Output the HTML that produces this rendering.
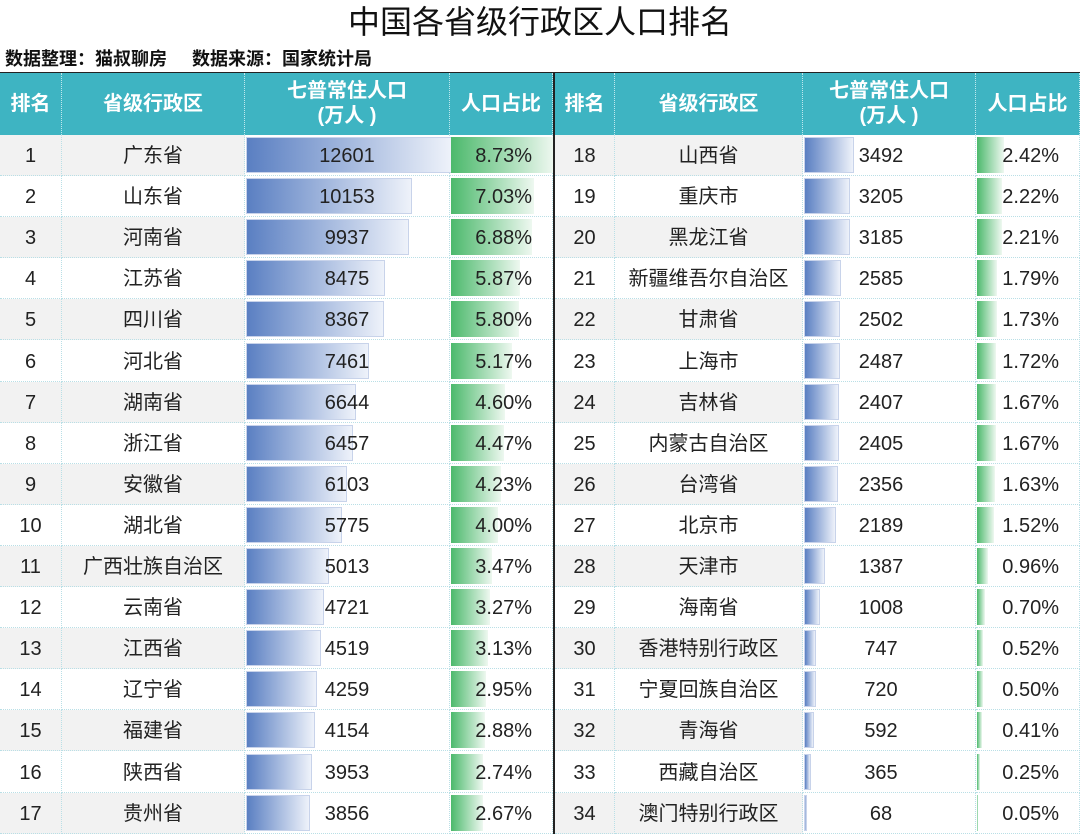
<!DOCTYPE html>
<html><head><meta charset="utf-8"><style>
body{margin:0;width:1080px;height:834px;background:#fff;font-family:"Liberation Sans","Noto Sans CJK SC",sans-serif;overflow:hidden;position:relative}
.t{position:absolute;left:0;top:0;width:1080px;height:44px;text-align:center;font-size:32px;line-height:44px;color:#111}
.s{position:absolute;left:5px;top:46px;font-size:18px;font-weight:bold;line-height:26px;color:#111;white-space:pre}
.hd{position:absolute;top:73px;height:62px;background:#3eb4c2;color:#fff;font-weight:bold;font-size:20px;display:flex;align-items:center;justify-content:center;text-align:center;line-height:25px;box-sizing:border-box;border-right:1px dotted #bfe8ee}
.c{position:absolute;height:41px;box-sizing:border-box;border-bottom:1px dotted #b9dfe6;border-right:1px dotted #b9dfe6;font-size:20px;line-height:42px;color:#222;text-align:center}
.g{background:#f2f2f2}
.b{position:absolute;top:2px;bottom:2px;left:1px;background:linear-gradient(90deg,#5a7fc2,#eef2fa);border:1px solid #c8d3ea}
.p{position:absolute;top:2px;bottom:2px;left:1px;background:linear-gradient(90deg,#4cb96c,#eef8f0)}
.v{position:relative}
</style></head><body>
<div class="t">中国各省级行政区人口排名</div>
<div class="s">数据整理：猫叔聊房     数据来源：国家统计局</div>
<div style="position:absolute;left:0;top:72px;width:1080px;height:1px;background:#222"></div>
<div style="position:absolute;left:553px;top:72px;width:2px;height:762px;background:#222;z-index:5"></div>
<div id="root"></div>
<script>
var L=[["广东省",12601,8.73],["山东省",10153,7.03],["河南省",9937,6.88],["江苏省",8475,5.87],["四川省",8367,5.80],["河北省",7461,5.17],["湖南省",6644,4.60],["浙江省",6457,4.47],["安徽省",6103,4.23],["湖北省",5775,4.00],["广西壮族自治区",5013,3.47],["云南省",4721,3.27],["江西省",4519,3.13],["辽宁省",4259,2.95],["福建省",4154,2.88],["陕西省",3953,2.74],["贵州省",3856,2.67]];
var R=[["山西省",3492,2.42],["重庆市",3205,2.22],["黑龙江省",3185,2.21],["新疆维吾尔自治区",2585,1.79],["甘肃省",2502,1.73],["上海市",2487,1.72],["吉林省",2407,1.67],["内蒙古自治区",2405,1.67],["台湾省",2356,1.63],["北京市",2189,1.52],["天津市",1387,0.96],["海南省",1008,0.70],["香港特别行政区",747,0.52],["宁夏回族自治区",720,0.50],["青海省",592,0.41],["西藏自治区",365,0.25],["澳门特别行政区",68,0.05]];
var h='';
function hdr(x,w){var t=["排名","省级行政区","七普常住人口<br>(万人 )","人口占比"];for(var i=0;i<4;i++){h+='<div class="hd" style="left:'+x+'px;width:'+w[i]+'px">'+t[i]+'</div>';x+=w[i];}}
hdr(0,[62,183,205,103]);hdr(555,[60,188,173,104]);
function side(d,r0,x0,w,bs,ps,numPad){for(var i=0;i<d.length;i++){var y=135+i*41.1,g=i%2==0?' g':'';var x=x0;
h+='<div class="c'+g+'" style="left:'+x+'px;top:'+y+'px;width:'+w[0]+'px">'+(r0+i)+'</div>';x+=w[0];
h+='<div class="c'+g+'" style="left:'+x+'px;top:'+y+'px;width:'+w[1]+'px">'+d[i][0]+'</div>';x+=w[1];
h+='<div class="c" style="left:'+x+'px;top:'+y+'px;width:'+w[2]+'px"><div class="b" style="width:'+Math.max(1,d[i][1]*bs)+'px"></div><span class="v" style="'+numPad+'">'+d[i][1]+'</span></div>';x+=w[2];
h+='<div class="c" style="left:'+x+'px;top:'+y+'px;width:'+w[3]+'px;text-align:right;padding-right:20px"><div class="p" style="width:'+Math.max(1,d[i][2]*ps)+'px"></div><span class="v">'+d[i][2].toFixed(2)+'%</span></div>';}}
side(L,1,0,[62,183,205,103],0.0162,11.8,'');
side(R,18,555,[60,188,173,104],0.0137,11.3,'position:relative;left:-8px');
document.getElementById('root').innerHTML=h;
</script>
</body></html>
